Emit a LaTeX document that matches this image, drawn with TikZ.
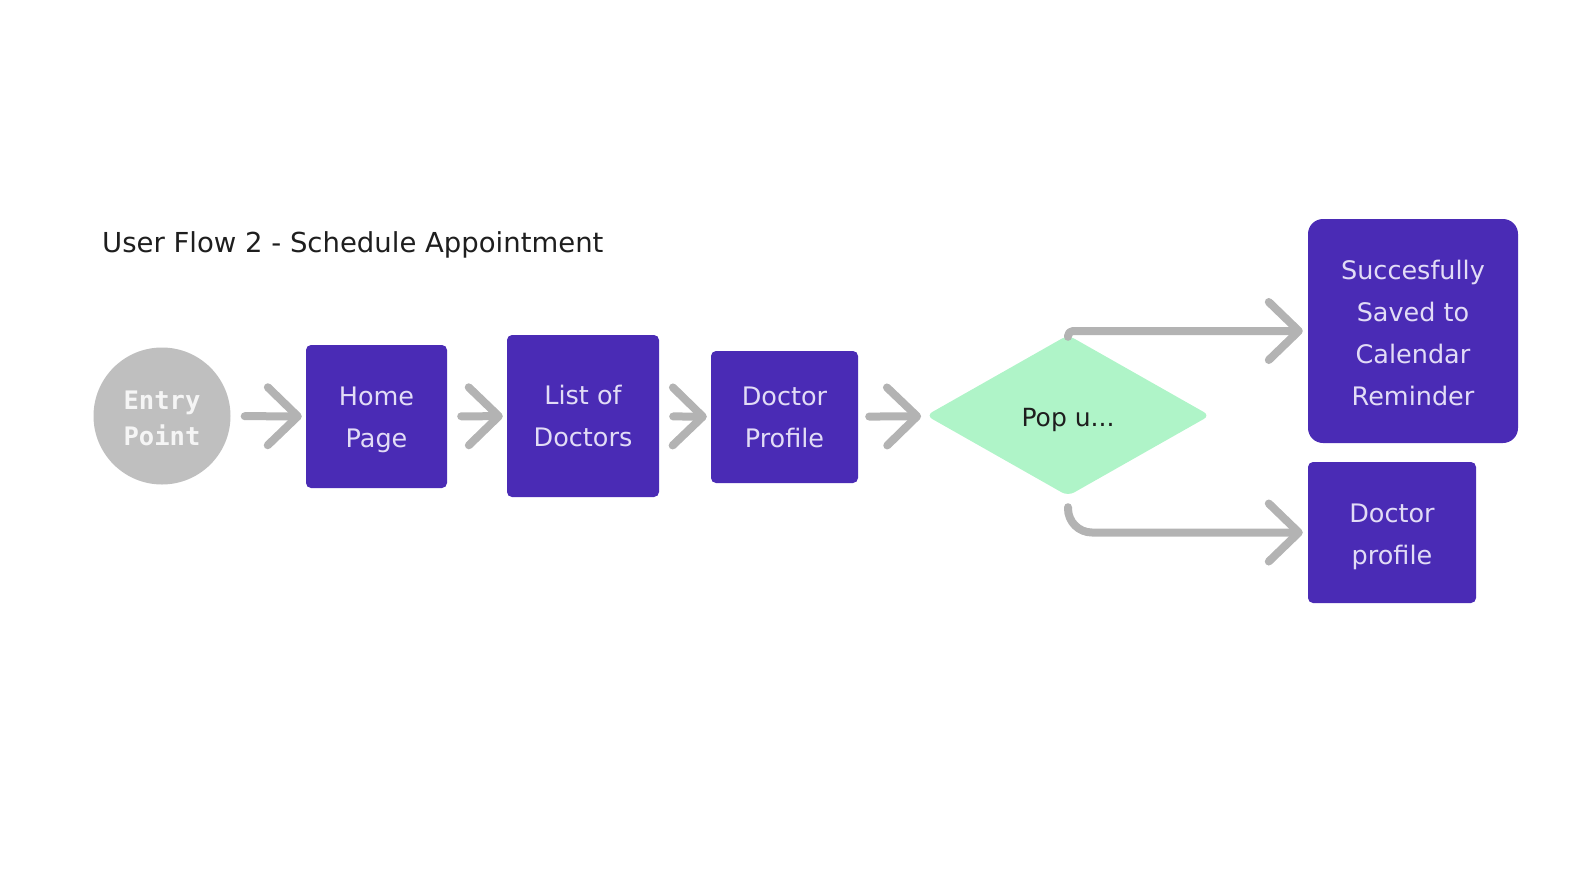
\documentclass[tikz,border=0pt]{standalone}
\usepackage{fontspec}
\setmainfont{DejaVu Sans}
\newfontfamily\monob{DejaVu Sans Mono}
\usetikzlibrary{shapes.geometric,arrows.meta,positioning}
\definecolor{boxfill}{HTML}{4A2BB5}
\definecolor{boxtext}{HTML}{E2DCF6}
\definecolor{conngray}{HTML}{B3B3B3}
\definecolor{circfill}{HTML}{BFBFBF}
\definecolor{diafill}{HTML}{AFF4C8}
\definecolor{titletext}{HTML}{1E1E1E}
\newcommand\lowr[2]{\raisebox{-#1}[\height][\depth]{#2}}
\tikzset{
  flowbox/.style={fill=boxfill, text=boxtext, rounded corners=5pt, align=center,
    inner sep=0pt, font=\fontsize{25.5}{42}\selectfont},
  conn/.style={draw=conngray, line width=8pt, line cap=round, line join=round,
    -{Straight Barb[length=30pt,width=58pt,round]}},
}
\begin{document}
\begin{tikzpicture}[x=1pt,y=-1pt]
\useasboundingbox (0,0) rectangle (1575,876);
\node[anchor=west, text=titletext, font=\fontsize{27.5}{30}\selectfont, inner sep=0pt] (title) at (102,244.5) {User Flow 2 - Schedule Appointment};
\node[circle, fill=circfill, minimum size=137pt, inner sep=0pt, text=white!96!black, align=center,
  font=\monob\bfseries\fontsize{25.5}{36}\selectfont] (entry) at (162,416) {\lowr{2pt}{Entry}\\\lowr{2pt}{Point}};
\node[flowbox, minimum width=141pt, minimum height=143pt] (home) at (376.5,416.5) {\lowr{3pt}{Home}\\\lowr{3pt}{Page}};
\node[flowbox, minimum width=152pt, minimum height=162pt] (list) at (583,416) {List of\\Doctors};
\node[flowbox, minimum width=147pt, minimum height=132pt] (prof) at (784.5,417) {Doctor\\Profile};
\node[diamond, fill=diafill, rounded corners=7pt, minimum width=284pt, minimum height=161pt, aspect=1.76,
  inner sep=0pt, text=titletext, font=\fontsize{25}{30}\selectfont] (pop) at (1068,415.5) {\lowr{4pt}{Pop u...}};
\node[flowbox, rounded corners=15pt, minimum width=210pt, minimum height=224pt] (succ) at (1413,331) {\lowr{2pt}{Succesfully}\\\lowr{2pt}{Saved to}\\\lowr{2pt}{Calendar}\\\lowr{2pt}{Reminder}};
\node[flowbox, minimum width=168pt, minimum height=141pt] (doc2) at (1392,532.5) {\lowr{4pt}{Doctor}\\\lowr{4pt}{profile}};
\draw[conn, shorten <=14pt, shorten >=4pt] (entry) -- (home);
\draw[conn, shorten <=14pt, shorten >=4pt] (home) -- (list);
\draw[conn, shorten <=14pt, shorten >=4pt] (list) -- (prof);
\draw[conn, shorten <=11pt, shorten >=6pt] (prof) -- (pop);
\draw[conn, rounded corners=5pt, shorten <=2pt, shorten >=5pt] (pop.north) |- (succ);
\draw[conn, rounded corners=24pt, shorten >=5pt] ([yshift=-11pt]pop.south) |- (doc2);
\end{tikzpicture}
\end{document}
